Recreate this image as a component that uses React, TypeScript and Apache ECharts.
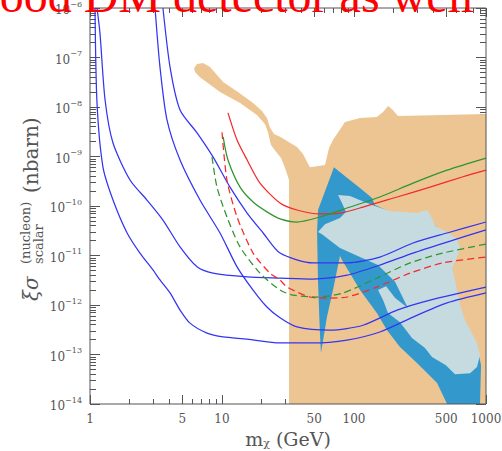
import React, { useEffect, useRef } from "react";
import * as echarts from "echarts";

// ---- axis ranges & tick values ----
const X_MIN = 1;
const X_MAX = 1000;
const Y_MIN = 1e-14;
const Y_MAX = 1e-6;
const xLabelValues = [1, 5, 10, 50, 100, 500, 1000];
const xMajorTickValues = [1, 5, 10, 50, 100, 500, 1000];
const xMinorTickValues = [2, 3, 4, 6, 7, 8, 9, 20, 30, 40, 60, 70, 80, 90, 200, 300, 400, 600, 700, 800, 900];
const yDecades = [-14, -13, -12, -11, -10, -9, -8, -7, -6];
const yMinorMultipliers = [2, 3, 4, 5, 6, 7, 8, 9];

// ---- filled regions: [mass GeV, cross-section nbarn] ----
const orangeRegion: [number, number][] = [
  [6.14, 6.1e-8], [6.47, 7.4e-8], [7.18, 7.7e-8], [8.11, 6.4e-8], [10.2, 3.2e-8],
  [13.2, 2.0e-8], [17.2, 1.2e-8], [20.1, 8.3e-9], [21.9, 6.0e-9], [23.1, 3.8e-9],
  [24.8, 2.85e-9], [27.5, 2.5e-9], [37.0, 1.55e-9], [41.1, 1.12e-9], [44.1, 7.7e-10],
  [46.4, 6.1e-10], [60.3, 6.7e-10], [64.7, 1.49e-9], [69.3, 2.15e-9], [85.5, 5.0e-9],
  [111, 6.0e-9], [149, 6.3e-9], [166, 7.9e-9], [181, 1.05e-8], [197, 8.7e-9],
  [215, 6.6e-9], [472, 6.9e-9], [1000, 7.2e-9], [1000, 1e-14], [32.2, 1e-14],
  [32.2, 3.35e-10], [30.0, 5.9e-10], [28.0, 9.3e-10], [26.1, 1.18e-9], [23.5, 1.7e-9],
  [22.3, 3.1e-9], [21.2, 4.5e-9], [18.4, 6.9e-9], [13.7, 1.2e-8], [9.66, 2.0e-8],
  [6.81, 4.0e-8], [6.25, 5.1e-8],
];
const darkRegion: [number, number][] = [
  [70.5, 6.1e-10], [88.5, 3.7e-10], [111, 2.3e-10], [137, 1.45e-10], [144, 1.05e-10],
  [223, 6.3e-11], [377, 4.75e-11], [489, 2.7e-11], [553, 1.18e-11], [515, 5.6e-12],
  [553, 2.0e-12], [613, 7.9e-13], [757, 2.5e-13], [869, 1.23e-13], [917, 6.1e-14],
  [901, 1e-14], [507, 1e-14], [426, 2.65e-14], [300, 6.7e-14], [223, 1.42e-13],
  [178, 3.1e-13], [149, 6.9e-13], [111, 2.0e-12], [81.1, 8.1e-12], [78.3, 9.8e-12],
  [69.3, 2.0e-12], [62.4, 5.7e-13], [56.2, 1.07e-13], [55.2, 2.7e-13], [53.4, 2.8e-12],
  [52.5, 3.0e-11], [53.4, 8.3e-11],
];
const lightRegion: [number, number][] = [
  [75.7, 1.67e-10], [93.3, 1.59e-10], [115, 1.26e-10], [144, 1.0e-10], [187, 7.9e-11],
  [235, 7.6e-11], [300, 7.2e-11], [357, 8.3e-11], [390, 5.7e-11], [411, 3.9e-11],
  [507, 3.0e-11], [603, 2.15e-11], [636, 1.42e-11], [592, 8.1e-12], [553, 5.6e-12],
  [582, 3.2e-12], [636, 1.0e-12], [693, 5.0e-13], [855, 1.71e-13], [901, 9.8e-14],
  [855, 5.6e-14], [757, 4.2e-14], [582, 4.0e-14], [497, 6.1e-14], [390, 8.9e-14],
  [345, 1.35e-13], [275, 2.15e-13], [223, 4.5e-13], [181, 6.9e-13], [166, 1.26e-12],
  [152, 2.0e-12], [175, 2.4e-12], [205, 1.38e-12], [256, 8.7e-13], [205, 2.9e-12],
  [152, 6.4e-12], [111, 9.3e-12], [78.3, 1.42e-11], [57.2, 2.7e-11], [53.4, 3.0e-11],
  [60.3, 4.3e-11], [78.3, 5.7e-11], [86.9, 7.6e-11], [81.1, 1.15e-10],
];

// ---- curves ----
const blue1: [number, number][] = [
  [1.091, 1e-6], [1.13, 1.2e-8], [1.254, 6.1e-10], [1.494, 1.32e-10], [1.91, 2.85e-11],
  [2.39, 1.12e-11], [3.0, 5.1e-12], [3.39, 3.2e-12], [4.04, 1.75e-12], [4.81, 7.9e-13],
  [5.72, 4.3e-13], [7.7, 2.7e-13], [10.2, 2.26e-13], [15.5, 2.05e-13], [27.5, 1.71e-13],
  [48.9, 1.71e-13], [88.5, 1.96e-13], [157, 2.85e-13], [280, 5.7e-13], [507, 1.1e-12],
  [1000, 1.75e-12],
];
const blue2: [number, number][] = [
  [1.13, 1e-6], [1.19, 3.1e-7], [1.3, 1.4e-8], [1.494, 1.87e-9], [2.01, 3.35e-10],
  [2.7, 1.32e-10], [3.57, 5.2e-11], [4.81, 1.49e-11], [6.47, 5.9e-12], [8.55, 4.4e-12],
  [15.5, 3.7e-12], [27.5, 3.5e-12], [48.9, 3.35e-12], [88.5, 4.0e-12], [157, 6.4e-12],
  [280, 1.12e-11], [507, 1.87e-11], [1000, 3.3e-11],
];
const blue3: [number, number][] = [
  [3.11, 1e-6], [3.39, 6.4e-8], [3.83, 5.5e-9], [4.81, 8.5e-10], [6.81, 1.32e-10],
  [9.66, 2.85e-11], [13.0, 5.9e-12], [17.2, 2.0e-12], [21.9, 9.1e-13], [27.5, 5.5e-13],
  [37.0, 3.6e-13], [65.8, 3.1e-13], [117, 3.9e-13], [212, 7.9e-13], [377, 1.26e-12],
  [1000, 2.3e-12],
];
const blue4: [number, number][] = [
  [3.57, 1e-6], [4.04, 6.4e-8], [4.81, 8.7e-9], [6.47, 3.0e-9], [8.55, 9.8e-10],
  [11.5, 2.4e-10], [15.5, 7.2e-11], [20.5, 2.85e-11], [27.5, 1.12e-11], [48.9, 7.1e-12],
  [88.5, 7.1e-12], [157, 9.3e-12], [280, 1.79e-11], [507, 2.85e-11], [1000, 4.75e-11],
];
const redSolid: [number, number][] = [
  [11.1, 7.6e-9], [13.0, 2.15e-9], [15.5, 8.5e-10], [19.4, 2.9e-10], [27.5, 1.15e-10],
  [37.0, 8.3e-11], [55.2, 6.9e-11], [78.3, 7.2e-11], [117, 9.5e-11], [212, 1.52e-10],
  [377, 2.4e-10], [670, 3.9e-10], [1000, 5.3e-10],
];
const greenSolid: [number, number][] = [
  [10.2, 2.5e-9], [11.1, 8.5e-10], [13.7, 2.4e-10], [17.2, 1.2e-10], [21.9, 7.6e-11],
  [27.5, 5.5e-11], [37.0, 4.75e-11], [55.2, 6.0e-11], [88.5, 9.1e-11], [157, 1.52e-10],
  [280, 2.9e-10], [507, 5.3e-10], [1000, 9.3e-10],
];
const redDashed: [number, number][] = [
  [10, 3.1e-9], [10.9, 3.35e-10], [13.0, 6.0e-11], [17.2, 1.12e-11], [23.1, 4.4e-12],
  [27.5, 3.2e-12], [31.1, 2.3e-12], [46.4, 1.45e-12], [62.4, 1.38e-12], [88.5, 1.45e-12],
  [149, 2.3e-12], [266, 4.4e-12], [472, 7.1e-12], [1000, 9.3e-12],
];
const greenDashed: [number, number][] = [
  [8.4, 9.8e-10], [9.16, 2.4e-10], [10.9, 6.0e-11], [13.7, 1.49e-11], [19.4, 4.4e-12],
  [27.5, 2.0e-12], [34.5, 1.59e-12], [52.5, 1.45e-12], [82.6, 1.75e-12], [149, 3.5e-12],
  [266, 7.1e-12], [472, 1.12e-11], [1000, 1.7e-11],
];

const TITLE = "Good DM detector as well";

const AXIS_COLOR = "#555";
const FONT = '"DejaVu Serif", serif';

const lg = (v: number) => Math.log10(v);
const xLabelLog = xLabelValues.map(lg);
const xMajorLog = xMajorTickValues.map(lg);
const xMinorLog = xMinorTickValues.map(lg);
const yMajorLog = yDecades.slice();
const yMinorLog: number[] = [];
yDecades.slice(0, -1).forEach((d) => yMinorMultipliers.forEach((m) => yMinorLog.push(d + lg(m))));

function auxX(position: "top" | "bottom", ticks: number[], len: number, labels: boolean): any {
  const ax: any = {
    type: "value",
    min: 0,
    max: 3,
    position,
    gridIndex: 0,
    axisLine: { show: false, onZero: false },
    splitLine: { show: false },
    axisTick: { show: true, inside: true, length: len, customValues: ticks, lineStyle: { color: AXIS_COLOR, width: 1 } },
    axisLabel: { show: false },
    z: 0,
  };
  if (labels) {
    ax.axisLabel = {
      show: true,
      customValues: xLabelLog,
      formatter: (v: number) => String(Math.round(Math.pow(10, v))),
      margin: 9,
      color: AXIS_COLOR,
      fontFamily: FONT,
      fontSize: 12,
    };
    ax.name = "{m|m}{s|χ}{m| (GeV)}";
    ax.nameLocation = "middle";
    ax.nameGap = 25;
    ax.nameTextStyle = {
      color: AXIS_COLOR,
      fontFamily: FONT,
      rich: {
        m: { fontSize: 19, fontFamily: FONT, color: AXIS_COLOR, lineHeight: 19, verticalAlign: "top" },
        s: { fontSize: 11, fontFamily: FONT, color: AXIS_COLOR, lineHeight: 11, verticalAlign: "bottom" },
      },
    };
  }
  return ax;
}

function auxY(position: "left" | "right", ticks: number[], len: number, labels: boolean): any {
  const ax: any = {
    type: "value",
    min: -14,
    max: -6,
    position,
    gridIndex: 0,
    axisLine: { show: false, onZero: false },
    splitLine: { show: false },
    axisTick: { show: true, inside: true, length: len, customValues: ticks, lineStyle: { color: AXIS_COLOR, width: 1 } },
    axisLabel: { show: false },
    z: 0,
  };
  if (labels) {
    ax.axisLabel = {
      show: true,
      customValues: yMajorLog,
      formatter: (v: number) => `{b|10}{s|−${Math.round(-v)}}`,
      margin: 8,
      color: AXIS_COLOR,
      fontFamily: FONT,
      rich: {
        b: { fontSize: 12, fontFamily: FONT, color: AXIS_COLOR, lineHeight: 16, verticalAlign: "bottom" },
        s: { fontSize: 8, fontFamily: FONT, color: AXIS_COLOR, lineHeight: 10, verticalAlign: "top" },
      },
    };
  }
  return ax;
}

function polygonSeries(pts: [number, number][], color: string, z: number): any {
  return {
    type: "custom",
    xAxisIndex: 0,
    yAxisIndex: 0,
    data: pts,
    encode: { x: 0, y: 1 },
    silent: true,
    z,
    renderItem: (params: any, api: any) => {
      if (params.dataIndex !== 0) return null;
      return {
        type: "polygon",
        shape: { points: pts.map((p) => api.coord(p)) },
        style: { fill: color, stroke: null },
      };
    },
  };
}

function lineSeries(pts: [number, number][], color: string, dashed: boolean): any {
  return {
    type: "line",
    xAxisIndex: 0,
    yAxisIndex: 0,
    data: pts,
    showSymbol: false,
    symbol: "none",
    smooth: 0.25,
    silent: true,
    z: 5,
    lineStyle: { color, width: 1.25, type: dashed ? [7, 4] : "solid" },
  };
}

export default function App() {
  const ref = useRef<HTMLDivElement>(null);
  useEffect(() => {
    if (!ref.current) return;
    const chart = echarts.init(ref.current, undefined, { renderer: "svg" });
    const BLUE = "#3434f4";
    const RED = "#f42a2a";
    const GREEN = "#2f952f";
    chart.setOption({
      animation: false,
      backgroundColor: "#ffffff",
      grid: {
        left: 90,
        right: 16,
        top: 8,
        bottom: 47,
        show: true,
        borderColor: AXIS_COLOR,
        borderWidth: 1,
        backgroundColor: "transparent",
        z: 10,
        containLabel: false,
        outerBoundsMode: "none",
      },
      xAxis: [
        { type: "log", logBase: 10, min: X_MIN, max: X_MAX, show: false, gridIndex: 0 },
        auxX("bottom", xMajorLog, 9, true),
        auxX("bottom", xMinorLog, 5, false),
        auxX("top", xMajorLog, 9, false),
        auxX("top", xMinorLog, 5, false),
      ],
      yAxis: [
        { type: "log", logBase: 10, min: Y_MIN, max: Y_MAX, show: false, gridIndex: 0 },
        auxY("left", yMajorLog, 10, true),
        auxY("left", yMinorLog, 6, false),
        auxY("right", yMajorLog, 10, false),
        auxY("right", yMinorLog, 6, false),
      ],
      series: [
        polygonSeries(orangeRegion, "#edc592", 1),
        polygonSeries(darkRegion, "#3399cc", 2),
        polygonSeries(lightRegion, "#c5dbe0", 3),
        lineSeries(blue1, BLUE, false),
        lineSeries(blue2, BLUE, false),
        lineSeries(blue3, BLUE, false),
        lineSeries(blue4, BLUE, false),
        lineSeries(redSolid, RED, false),
        lineSeries(greenSolid, GREEN, false),
        lineSeries(redDashed, RED, true),
        lineSeries(greenDashed, GREEN, true),
      ],
      graphic: [
        {
          type: "group",
          x: 31,
          y: 301,
          rotation: Math.PI / 2,
          z: 20,
          children: [
            { type: "text", x: 0, y: 0, style: { text: "ξσ", font: 'italic 20px "DejaVu Serif"', fill: AXIS_COLOR, align: "left", verticalAlign: "middle", textAlign: "left", textVerticalAlign: "middle" } },
            { type: "text", x: 37, y: -6, style: { text: "(nucleon)", font: '13px "DejaVu Serif"', fill: AXIS_COLOR, align: "left", verticalAlign: "middle", textAlign: "left", textVerticalAlign: "middle" } },
            { type: "text", x: 37, y: 7, style: { text: "scalar", font: '13px "DejaVu Serif"', fill: AXIS_COLOR, align: "left", verticalAlign: "middle", textAlign: "left", textVerticalAlign: "middle" } },
            { type: "text", x: 108, y: 0, style: { text: "(nbarn)", font: '20px "DejaVu Serif"', fill: AXIS_COLOR, align: "left", verticalAlign: "middle", textAlign: "left", textVerticalAlign: "middle" } },
          ],
        },
        {
          type: "text",
          x: -35,
          y: -5,
          z: 100,
          style: { text: TITLE, font: '48px "Liberation Serif"', fill: "#ff0000", align: "left", verticalAlign: "middle", textAlign: "left", textVerticalAlign: "middle" },
        },
      ],
    });
    return () => chart.dispose();
  }, []);
  return <div ref={ref} style={{ width: 502, height: 451, position: "absolute", left: 0, top: 0 }} />;
}
